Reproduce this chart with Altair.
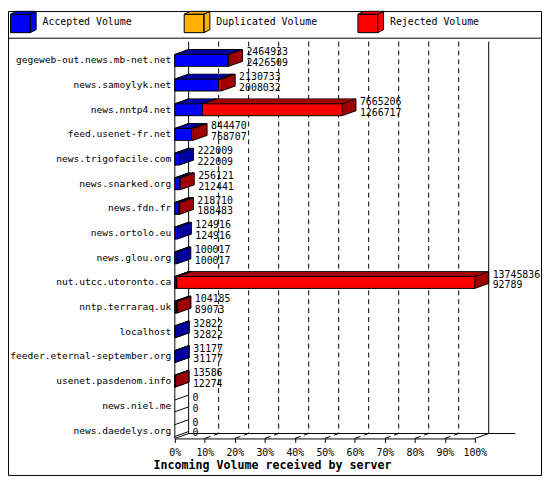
import altair as alt
import pandas as pd

# ---------------- data ----------------
hosts = [
    "gegeweb-out.news.mb-net.net", "news.samoylyk.net", "news.nntp4.net",
    "feed.usenet-fr.net", "news.trigofacile.com", "news.snarked.org",
    "news.fdn.fr", "news.ortolo.eu", "news.glou.org", "nut.utcc.utoronto.ca",
    "nntp.terraraq.uk", "localhost", "feeder.eternal-september.org",
    "usenet.pasdenom.info", "news.niel.me", "news.daedelys.org",
]
total_volume = [2464933, 2130733, 7665206, 844470, 222009, 256121, 218710,
                124916, 100017, 13745836, 104185, 32822, 31177, 13586, 0, 0]
accepted_volume = [2426509, 2008032, 1266717, 768707, 222009, 212441, 188483,
                   124916, 100017, 92789, 89073, 32822, 31177, 12274, 0, 0]
duplicated_volume = [0, 0, 0, 0, 0, 0, 0, 0, 0, 0, 0, 0, 0, 0, 0, 0]
series = ["Accepted Volume", "Duplicated Volume", "Rejected Volume"]
face_colors = ["#0000ff", "#ffb000", "#ff0000"]
side_colors = ["#0000a0", "#a07000", "#a00000"]
percent_ticks = [0, 10, 20, 30, 40, 50, 60, 70, 80, 90, 100]
axis_title = "Incoming Volume received by server"

# ---------------- styling / geometry ----------------
FONT = "DejaVu Sans Mono"
W, H = 304, 397
DX, DY = 14, 5          # 3-D depth offset in pixels
HALF = 6                # half bar thickness in pixels
K = 14                  # number of depth slices
PAD = {"left": 169, "top": 36, "right": 68, "bottom": 38}
CUBE = ("M-1,-0.6L0.54,-0.6L0.54,0.83L-1,0.83Z"
        "M-1,-0.6L-0.54,-0.83L1,-0.83L0.54,-0.6Z"
        "M0.54,-0.6L1,-0.83L1,0.6L0.54,0.83Z")

scale_max = max(total_volume)


def pct(v):
    return v * 100.0 / scale_max


seg_rows, top_edge_rows, bottom_edge_rows, label_rows = [], [], [], []
for h, t, a, d in zip(hosts, total_volume, accepted_volume, duplicated_volume):
    parts = [a, d, t - a - d]
    start = 0
    for name, side, v in zip(series, side_colors, parts):
        if v > 0:
            seg_rows.append(dict(host=h, type=name, side=side,
                                 x0=pct(start), x1=pct(start + v)))
            top_edge_rows.append(dict(host=h, xe=pct(start)))
            top_edge_rows.append(dict(host=h, xe=pct(start + v)))
            start += v
    if t > 0:
        bottom_edge_rows.append(dict(host=h, xe=pct(t)))
    label_rows.append(dict(host=h, xt=pct(t), total=str(t), accepted=str(a)))

segs = pd.DataFrame(seg_rows)
top_edges = pd.DataFrame(top_edge_rows)
bottom_edges = pd.DataFrame(bottom_edge_rows)
labels = pd.DataFrame(label_rows)
rows = pd.DataFrame({"host": hosts})
ticks_mid = pd.DataFrame({"t": percent_ticks[1:-1]})
ticks_end = pd.DataFrame({"t": [percent_ticks[0], percent_ticks[-1]]})
floor = pd.DataFrame({"a": [percent_ticks[0]], "b": [percent_ticks[-1]]})
one = pd.DataFrame({"k": [0]})

xs = alt.Scale(domain=[0, 100], nice=False, zero=True)
ys = alt.Scale(paddingInner=0.52, paddingOuter=0.2, align=0.8)

x_axis = alt.Axis(values=percent_ticks, labelExpr="datum.value + '%'", grid=False,
                  tickSize=4, tickColor="black", domainColor="black", labelColor="black",
                  labelFontSize=10, labelPadding=5, labelFlush=False, labelOverlap=False,
                  title=axis_title, titleFontSize=11.8, titleFontWeight="bold",
                  titleColor="black", titleX=-22, titleY=30, titleAlign="left",
                  titleAnchor="start", titleBaseline="alphabetic")
y_axis = alt.Axis(title=None, domain=False, ticks=False, labelPadding=4, labelFontSize=9.7,
                  labelColor="black", labelLimit=300)


def X(f):
    return alt.X(f"{f}:Q", scale=xs, axis=x_axis)


def Y():
    return alt.Y("host:N", sort=hosts, scale=ys, axis=y_axis)


layers = []

# outer frame and legend separator
layers.append(alt.Chart(one).mark_rect(fillOpacity=0, stroke="black", strokeWidth=1).encode(
    x=alt.value(-PAD["left"] + 0.5), x2=alt.value(W + PAD["right"] - 0.5),
    y=alt.value(-PAD["top"] + 0.5), y2=alt.value(H + PAD["bottom"] - 0.5)))
layers.append(alt.Chart(one).mark_rule(color="black", strokeWidth=1).encode(
    x=alt.value(-PAD["left"] + 0.5), x2=alt.value(W + PAD["right"] - 0.5),
    y=alt.value(-8.5)))

# back wall
layers.append(alt.Chart(ticks_mid).mark_rule(xOffset=DX, color="black", strokeDash=[5, 4]).encode(
    x=X("t"), y=alt.value(-DY), y2=alt.value(H - DY)))
layers.append(alt.Chart(ticks_end).mark_rule(xOffset=DX, color="black").encode(
    x=X("t"), y=alt.value(-DY), y2=alt.value(H - DY)))
# floor
layers.append(alt.Chart(floor).mark_rule(xOffset=DX, x2Offset=DX + 27, color="black").encode(
    x=X("a"), x2="b:Q", y=alt.value(H - DY)))
layers.append(alt.Chart(ticks_mid).mark_rule(x2Offset=DX, color="black", strokeDash=[6, 4]).encode(
    x=X("t"), x2="t:Q", y=alt.value(H), y2=alt.value(H - DY)))
layers.append(alt.Chart(ticks_end).mark_rule(x2Offset=DX, color="black").encode(
    x=X("t"), x2="t:Q", y=alt.value(H), y2=alt.value(H - DY)))
# left wall
layers.append(alt.Chart(one).mark_rule(color="black").encode(
    x=alt.value(0), y=alt.value(8), y2=alt.value(H)))
for off in (-HALF, HALF):
    layers.append(alt.Chart(rows).mark_rule(color="black", yOffset=off, y2Offset=off - DY).encode(
        x=alt.value(0), x2=alt.value(DX), y=Y(), y2="host:N"))

# depth slices of the bars (each slice at least 1 px wide so thin bars stay solid)
for k in range(K, 0, -1):
    ox = k * DX / K
    oy = -k * DY / K
    props = dict(xOffset=ox - 1, x2Offset=ox, yOffset=oy, y2Offset=oy)
    if k == K:
        props.update(stroke="black", strokeWidth=1)
    else:
        props.update(strokeWidth=0)
    layers.append(alt.Chart(segs).mark_bar(**props).encode(
        x=X("x0"), x2="x1:Q", y=Y(), color=alt.Color("side:N", scale=None)))

# slanted edges of the bars
layers.append(alt.Chart(top_edges).mark_rule(color="black", x2Offset=DX, yOffset=-HALF,
                                             y2Offset=-HALF - DY).encode(
    x=X("xe"), x2="xe:Q", y=Y(), y2="host:N"))
layers.append(alt.Chart(bottom_edges).mark_rule(color="black", x2Offset=DX, yOffset=HALF,
                                                y2Offset=HALF - DY).encode(
    x=X("xe"), x2="xe:Q", y=Y(), y2="host:N"))

# front faces (carry the legend)
legend = alt.Legend(title=None, orient="none", legendX=-167, legendY=-38.75,
                    direction="horizontal", columns=3, gridAlign="all", columnPadding=38,
                    symbolType=CUBE, symbolSize=676, symbolStrokeColor="black",
                    symbolStrokeWidth=1, symbolOpacity=1, labelFontSize=10,
                    labelColor="black", labelOffset=6, padding=0)
layers.append(alt.Chart(segs).mark_bar(stroke="black", strokeWidth=1).encode(
    x=X("x0"), x2="x1:Q", y=Y(),
    fill=alt.Fill("type:N", scale=alt.Scale(domain=series, range=face_colors), legend=legend)))

# value labels
layers.append(alt.Chart(labels).mark_text(align="left", baseline="middle", dx=DX + 4, dy=-8,
                                          fontSize=10, color="black").encode(
    x=X("xt"), y=Y(), text="total:N"))
layers.append(alt.Chart(labels).mark_text(align="left", baseline="middle", dx=DX + 4, dy=3,
                                          fontSize=10, color="black").encode(
    x=X("xt"), y=Y(), text="accepted:N"))

chart = alt.layer(*layers).properties(
    width=W, height=H, padding=PAD,
    autosize=alt.AutoSizeParams(type="none"),
    background="white",
).configure(font=FONT).configure_view(strokeWidth=0).configure_axis(
    labelFont=FONT, titleFont=FONT).configure_legend(labelFont=FONT).configure_text(font=FONT)

chart.save("out.html", embed_options={"renderer": "svg", "actions": False})
